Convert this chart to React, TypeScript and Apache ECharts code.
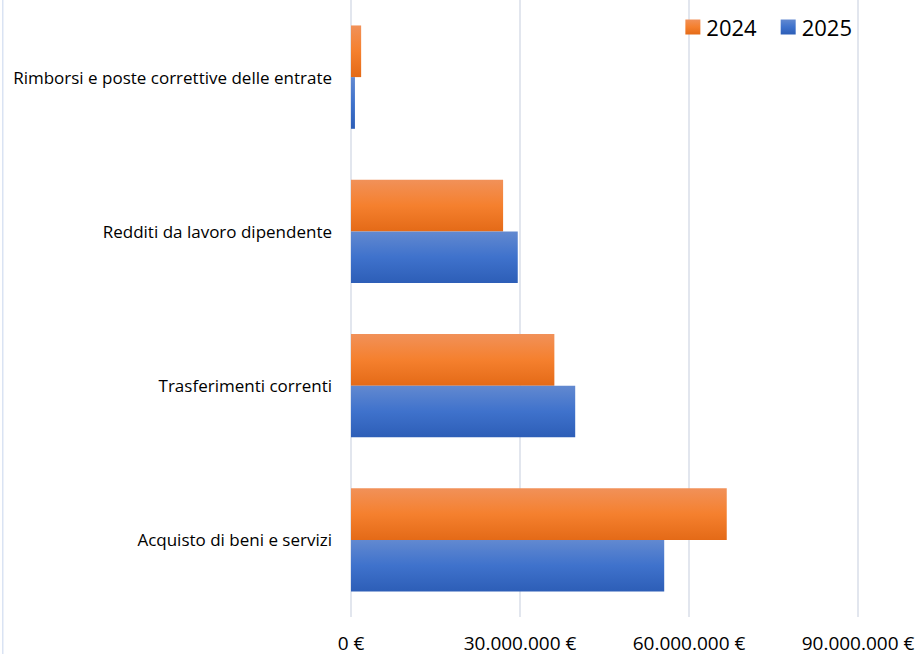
import React, { useEffect, useRef } from "react";
import * as echarts from "echarts";

const categories = [
  "Acquisto di beni e servizi",
  "Trasferimenti correnti",
  "Redditi da lavoro dipendente",
  "Rimborsi e poste correttive delle entrate",
];
const values2024 = [66700000, 36100000, 27000000, 1800000];
const values2025 = [55600000, 39800000, 29600000, 700000];
const seriesNames = ["2024", "2025"];
const xTicks = { min: 0, max: 90000000, interval: 30000000 };

const fmt = (v: number) =>
  v === 0 ? "0 €" : v.toString().replace(/\B(?=(\d{3})+(?!\d))/g, ".") + " €";

const orangeGrad = () =>
  new echarts.graphic.LinearGradient(0, 0, 0, 1, [
    { offset: 0, color: "#F19159" },
    { offset: 0.5, color: "#F5802E" },
    { offset: 1, color: "#E46A17" },
  ]);
const blueGrad = () =>
  new echarts.graphic.LinearGradient(0, 0, 0, 1, [
    { offset: 0, color: "#6289D0" },
    { offset: 0.5, color: "#3F72CC" },
    { offset: 1, color: "#2D5EB7" },
  ]);

export default function App() {
  const ref = useRef<HTMLDivElement>(null);
  useEffect(() => {
    if (!ref.current) return;
    const chart = echarts.init(ref.current, undefined, { renderer: "svg" });
    const font = "'Open Sans', Lato, sans-serif";
    chart.setOption({
      animation: false,
      textStyle: { fontFamily: font },
      grid: { left: 351, right: 61, top: 0, bottom: 37, containLabel: false },
      legend: {
        data: seriesNames,
        right: 62,
        top: 11,
        itemWidth: 15,
        itemHeight: 15,
        itemGap: 24,
        icon: "rect",
        textStyle: { fontSize: 22, color: "#000", fontFamily: font, padding: [0, 0, 0, 1] },
      },
      xAxis: {
        type: "value",
        min: xTicks.min,
        max: xTicks.max,
        interval: xTicks.interval,
        axisLine: { show: false },
        axisTick: { show: false },
        splitLine: { show: true, lineStyle: { color: "#D9DEE8", width: 1.5 } },
        axisLabel: {
          formatter: (v: number) => fmt(v),
          fontSize: 19,
          color: "#000",
          margin: 16,
          fontFamily: font,
        },
      },
      yAxis: {
        type: "category",
        data: categories,
        axisLine: { show: false },
        axisTick: { show: false },
        axisLabel: { fontSize: 17, color: "#000", margin: 19, fontFamily: font },
      },
      series: [
        {
          name: seriesNames[0],
          type: "bar",
          data: values2024,
          itemStyle: { color: orangeGrad() },
          barGap: "0%",
          barCategoryGap: "33%",
        },
        {
          name: seriesNames[1],
          type: "bar",
          data: values2025,
          itemStyle: { color: blueGrad() },
          barGap: "0%",
          barCategoryGap: "33%",
        },
      ],
      graphic: [
        {
          type: "rect",
          shape: { x: 2, y: 0, width: 1.5, height: 654 },
          style: { fill: "#DAE3F3" },
        },
      ],
    });
    return () => chart.dispose();
  }, []);
  return <div ref={ref} style={{ width: 919, height: 654, position: "absolute", left: 0, top: 0 }} />;
}
